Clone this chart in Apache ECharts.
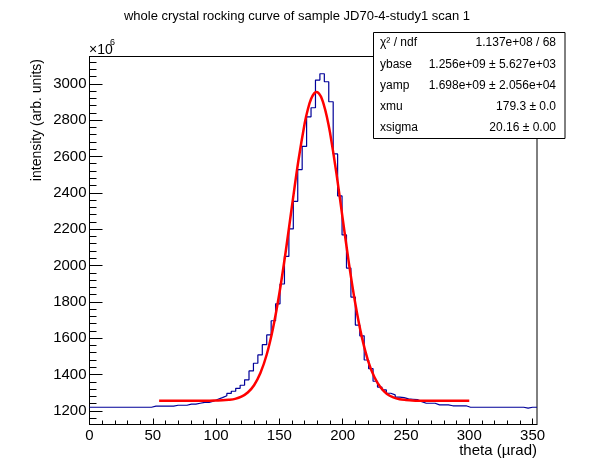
<!DOCTYPE html>
<html>
<head>
<meta charset="utf-8">
<title>whole crystal rocking curve</title>
<script src="https://cdn.jsdelivr.net/npm/echarts@6/dist/echarts.min.js"></script>
<style>
  html, body { margin: 0; padding: 0; background: #fff; }
  #chart { width: 596px; height: 472px; }
</style>
</head>
<body>
<div id="chart"></div>
<script>
// histogram: 101 bins of 3.5 urad starting at 0, values in units of 1e6
var binWidth = 3.5;
var counts = [
  1220, 1220, 1220, 1220, 1220, 1220, 1220, 1220, 1220, 1220, 1220, 1220, 1220, 1220,
  1226, 1226, 1226, 1226, 1226, 1231, 1231, 1231, 1237, 1237, 1242, 1247, 1247, 1253,
  1264, 1273, 1283, 1296, 1308, 1324, 1341, 1371, 1420, 1462, 1508, 1564, 1618, 1696,
  1789, 1898, 2050, 2201, 2353, 2528, 2655, 2818, 2868, 3020, 3055, 3011, 2901, 2614,
  2383, 2168, 1986, 1826, 1672, 1613, 1480, 1432, 1363, 1331, 1315, 1297, 1288, 1276,
  1273, 1266, 1264, 1262, 1251, 1242, 1242, 1242, 1233, 1233, 1233, 1228, 1228, 1228,
  1228, 1220, 1220, 1220, 1220, 1220, 1220, 1220, 1220, 1220, 1220, 1220, 1220, 1220,
  1215, 1220, 1220
];

// fitted curve
var fitTheta = [55, 60, 65, 70, 75, 80, 85, 90, 95, 100, 105, 110, 115, 120, 125, 130,
  135, 140, 145, 150, 155, 160, 165, 170, 172.5, 175, 177.5, 179.3, 182.5, 185, 187.5,
  190, 195, 200, 205, 210, 215, 220, 225, 230, 235, 240, 245, 250, 255, 260, 270, 280,
  290, 300];
var fitValue = [1256, 1256, 1256, 1256, 1256, 1256, 1256, 1256, 1256, 1257, 1258, 1261,
  1266, 1278, 1301, 1341, 1408, 1510, 1656, 1847, 2077, 2330, 2576, 2783, 2860, 2916,
  2947, 2954, 2933, 2887, 2819, 2731, 2510, 2258, 2009, 1789, 1610, 1477, 1386, 1328,
  1293, 1274, 1264, 1260, 1257, 1256, 1256, 1256, 1256, 1256];

var xTicks = [0, 50, 100, 150, 200, 250, 300, 350];
var yTicks = [1200, 1400, 1600, 1800, 2000, 2200, 2400, 2600, 2800, 3000];

var statNames = ['\u03c7\u00b2 / ndf', 'ybase', 'yamp', 'xmu', 'xsigma'];
var statValues = ['1.137e+08 / 68', '1.256e+09 \u00b1 5.627e+03',
  '1.698e+09 \u00b1 2.056e+04', '179.3 \u00b1 0.0', '20.16 \u00b1 0.00'];

(function() {
  var font = 'Liberation Sans, Arial, Helvetica, sans-serif';
  var chart = echarts.init(document.getElementById('chart'), null, { renderer: 'canvas' });

  var histData = [];
  for (var i = 0; i < counts.length; i++) {
    histData.push([i * binWidth, counts[i]]);
  }
  histData.push([counts.length * binWidth, counts[counts.length - 1]]);

  var fitData = fitTheta.map(function(t, k) { return [t, fitValue[k]]; });

  var xMinor = [];
  for (var x = 0; x <= 350; x += 10) xMinor.push(x);
  var yMinor = [];
  for (var y = 1160; y <= 3120; y += 40) yMinor.push(y);

  var axisLine = { show: true, lineStyle: { color: '#000', width: 1 } };
  var plain = function(v) { return String(v); };

  // stats box
  var box = { x: 373.5, y: 32.5, w: 191.5, h: 106 };
  var graphics = [
    {
      type: 'text', x: 297, y: 16, z: 100,
      style: { text: 'whole crystal rocking curve of sample JD70-4-study1 scan 1',
        textAlign: 'center', textVerticalAlign: 'middle', font: '13px ' + font, fill: '#000' }
    },
    {
      type: 'text', x: 89, y: 50, z: 100,
      style: { text: '\u00d710', textAlign: 'left', textVerticalAlign: 'middle',
        font: '14px ' + font, fill: '#000' }
    },
    {
      type: 'text', x: 110, y: 43, z: 100,
      style: { text: '6', textAlign: 'left', textVerticalAlign: 'middle',
        font: '9px ' + font, fill: '#000' }
    },
    {
      type: 'text', x: 37.5, y: 59, rotation: Math.PI / 2, z: 100,
      style: { text: 'intensity (arb. units)', textAlign: 'right', textVerticalAlign: 'middle',
        font: '14px ' + font, fill: '#000' }
    },
    {
      type: 'text', x: 537, y: 451, z: 100,
      style: { text: 'theta (\u00b5rad)', textAlign: 'right', textVerticalAlign: 'middle',
        font: '15px ' + font, fill: '#000' }
    },
    {
      type: 'rect', z: 100,
      shape: { x: box.x, y: box.y, width: box.w, height: box.h },
      style: { fill: '#fff', stroke: '#000', lineWidth: 1 }
    }
  ];
  var rowH = box.h / statNames.length;
  statNames.forEach(function(name, k) {
    var cy = box.y + rowH * (k + 0.5);
    graphics.push({
      type: 'text', x: 380, y: cy, z: 101,
      style: { text: name, textAlign: 'left', textVerticalAlign: 'middle',
        font: '12px ' + font, fill: '#000' }
    });
    graphics.push({
      type: 'text', x: 556, y: cy, z: 101,
      style: { text: statValues[k], textAlign: 'right', textVerticalAlign: 'middle',
        font: '12px ' + font, fill: '#000' }
    });
  });

  chart.setOption({
    animation: false,
    backgroundColor: '#fff',
    grid: {
      left: 89.5, top: 56.5, right: 59, bottom: 47.5,
      show: true, borderColor: '#000', borderWidth: 1, backgroundColor: 'transparent'
    },
    xAxis: [
      {
        type: 'value', min: 0, max: 353.5,
        axisLine: axisLine,
        axisTick: { show: true, inside: true, length: 6, customValues: xTicks,
          lineStyle: { color: '#000', width: 1 } },
        axisLabel: { show: true, customValues: xTicks, formatter: plain, fontSize: 15,
          fontFamily: font, color: '#000', margin: 4 },
        splitLine: { show: false }
      },
      {
        type: 'value', min: 0, max: 353.5, position: 'bottom',
        axisLine: { show: false },
        axisTick: { show: true, inside: true, length: 4, customValues: xMinor,
          lineStyle: { color: '#000', width: 1 } },
        axisLabel: { show: false },
        splitLine: { show: false }
      }
    ],
    yAxis: [
      {
        type: 'value', min: 1125, max: 3150,
        axisLine: axisLine,
        axisTick: { show: true, inside: true, length: 13, customValues: yTicks,
          lineStyle: { color: '#000', width: 1 } },
        axisLabel: { show: true, customValues: yTicks, formatter: plain, fontSize: 15,
          fontFamily: font, color: '#000', margin: 3 },
        splitLine: { show: false }
      },
      {
        type: 'value', min: 1125, max: 3150, position: 'left',
        axisLine: { show: false },
        axisTick: { show: true, inside: true, length: 7, customValues: yMinor,
          lineStyle: { color: '#000', width: 1 } },
        axisLabel: { show: false },
        splitLine: { show: false }
      }
    ],
    series: [
      {
        name: 'histogram',
        type: 'line',
        step: 'end',
        data: histData,
        showSymbol: false,
        lineStyle: { color: '#000099', width: 1.2 },
        z: 2
      },
      {
        name: 'fit',
        type: 'line',
        data: fitData,
        smooth: 0.3,
        showSymbol: false,
        lineStyle: { color: '#ff0000', width: 2.5 },
        z: 3
      }
    ],
    graphic: graphics
  });

  window.addEventListener('resize', function() { chart.resize(); });
})();
</script>
</body>
</html>
